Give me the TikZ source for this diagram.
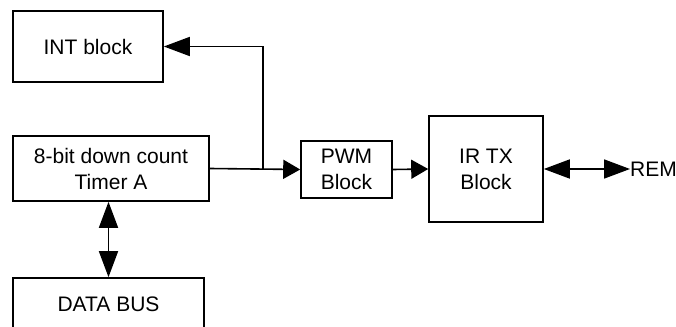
\documentclass[tikz,border=0pt]{standalone}
\usepackage{fontspec}
\setmainfont{Liberation Sans}
\usetikzlibrary{arrows.meta}

\tikzset{
    blk/.style={draw, line width=1.6pt, align=center, inner sep=0pt,
        font=\fontsize{21}{26}\selectfont},
    sig/.style={line width=1.6pt, -{Triangle[length=17pt, width=19pt]}},
    longsig/.style={line width=1.6pt, -{Triangle[length=26pt, width=19pt]}},
    bidir/.style={line width=1.6pt, {Triangle[length=26pt, width=19pt]}-{Triangle[length=26pt, width=19pt]}}
}

\begin{document}
\begin{tikzpicture}[x=1pt, y=-1pt]
    \useasboundingbox (0, 0) rectangle (676, 326);

    \node [blk, minimum width=150pt, minimum height=71pt] (int) at (88, 46.5) {INT block};
    \node [blk, minimum width=196pt, minimum height=65pt] (timer) at (111, 168.5) {8-bit down count\\Timer A};
    \node [blk, minimum width=191pt, minimum height=52pt] (bus) at (108.5, 304) {DATA BUS};
    \node [blk, minimum width=91pt, minimum height=57pt] (pwm) at (346.5, 169.5) {PWM\\Block};
    \node [blk, minimum width=114pt, minimum height=106pt] (irtx) at (486, 169) {IR TX\\Block};
    \node [font=\fontsize{21}{26}\selectfont, anchor=west, inner sep=0pt] (rem) at (630, 169) {REM};

    \coordinate (split) at (263, 169);

    \draw [sig] (timer.east) -- (pwm.west);
    \draw [longsig] (split) |- (int.east);
    \draw [sig] (pwm.east) -- (irtx.west);
    \draw [bidir] (irtx.east) -- (rem.west);
    \draw [bidir] (timer.south -| bus.north) -- (bus.north);
\end{tikzpicture}
\end{document}
